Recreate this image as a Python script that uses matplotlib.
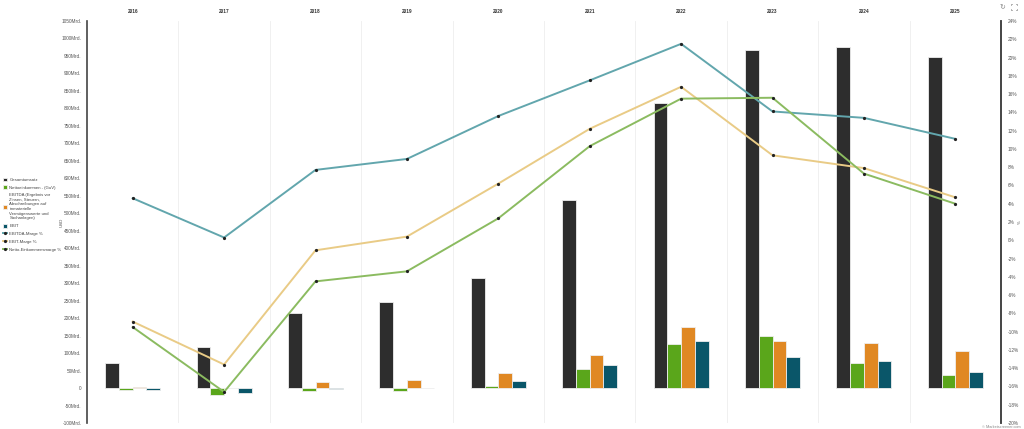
import matplotlib.pyplot as plt
import numpy as np
from matplotlib.lines import Line2D

plt.rcParams['font.family'] = ['Liberation Sans', 'DejaVu Sans']

# Werte in Mrd. USD bzw. %
years = ['2016', '2017', '2018', '2019', '2020', '2021', '2022', '2023', '2024', '2025']
umsatz = [71, 117, 214, 246, 316, 538, 815, 967, 977, 948]
netto = [-7, -19, -9, -9, 7, 55, 127, 150, 71, 38]
ebitda = [3, 1, 17, 23, 43, 94, 174, 136, 129, 105]
ebit = [-6, -15, -2, 1, 19, 65, 136, 89, 76, 45]

ebitda_marge = [4.6, 0.3, 7.7, 8.9, 13.6, 17.5, 21.5, 14.1, 13.4, 11.1]
ebit_marge = [-8.9, -13.6, -1.1, 0.4, 6.2, 12.2, 16.8, 9.3, 7.9, 4.7]
netto_marge = [-9.5, -16.6, -4.5, -3.4, 2.4, 10.3, 15.5, 15.6, 7.3, 4.0]

left_ticks = list(range(-100, 1051, 50))
right_ticks = list(range(-20, 25, 2))

bar_names = ['Gesamtumsatz', 'Nettoeinkommen - (GuV)',
             'EBITDA (Ergebnis vor\nZinsen, Steuern,\nAbschreibungen auf\nimmaterielle\nVermögenswerte und\nSachanlagen)',
             'EBIT']
bar_colors = ['#2d2d2d', '#5aa61b', '#e08823', '#0a5669']
line_names = ['EBITDA-Marge %', 'EBIT-Marge %', 'Netto-Einkommensmarge %']
line_colors = ['#62a6ad', '#e9cb86', '#8bbb60']

fig = plt.figure(figsize=(10.24, 4.29), dpi=100)
ax = fig.add_axes([87 / 1024, 1 - 423 / 429, (1001 - 87) / 1024, 402 / 429])

x = np.arange(len(years))
w = 0.15
handles = []
for i, (vals, col, name) in enumerate(zip([umsatz, netto, ebitda, ebit], bar_colors, bar_names)):
    h = ax.bar(x + (i - 1.5) * w, vals, w, color=col, edgecolor='#eeeeee', linewidth=0.6,
               label=name, zorder=2)
    handles.append(h)

ax.set_xlim(-0.5, len(years) - 0.5)
ax.set_ylim(-100, 1050)
ax.set_yticks(left_ticks)
ax.set_yticklabels(['0' if v == 0 else f'{v}Mrd.' for v in left_ticks])
ax.tick_params(axis='y', length=0, labelsize=3.4, colors='#555555', pad=4)
ax.set_xticks(x)
ax.set_xticklabels(years, fontweight='bold')
ax.xaxis.tick_top()
ax.tick_params(axis='x', length=0, labelsize=3.4, colors='#333333', pad=5)
ax.set_xticks(np.arange(0.5, len(years) - 1, 1), minor=True)
ax.tick_params(axis='x', which='minor', length=0)
ax.grid(axis='x', which='minor', color='#eeeeee', linewidth=0.6, zorder=0)
for s in ['top', 'bottom']:
    ax.spines[s].set_visible(False)
ax.spines['left'].set_color('#444444')
ax.spines['left'].set_linewidth(1.2)
ax.spines['right'].set_color('#444444')
ax.spines['right'].set_linewidth(1.2)
ax.set_ylabel('USD', fontsize=3.2, color='#555555')
ax.yaxis.set_label_coords(-0.0252, 0.5)

ax2 = ax.twinx()
for vals, col, name in zip([ebitda_marge, ebit_marge, netto_marge], line_colors, line_names):
    h, = ax2.plot(x, vals, color=col, linewidth=1.4, marker='o', markersize=1.3,
                  markerfacecolor='#222222', markeredgecolor='#222222', label=name, zorder=3)
    handles.append(h)
ax2.set_ylim(-20, 24)
ax2.set_yticks(right_ticks)
ax2.set_yticklabels([f'{v}%' for v in right_ticks])
ax2.tick_params(axis='y', length=0, labelsize=3.4, colors='#555555', pad=5)
for s in ['top', 'bottom', 'left']:
    ax2.spines[s].set_visible(False)
ax2.spines['right'].set_color('#444444')
ax2.spines['right'].set_linewidth(1.2)
ax2.set_ylabel('%', fontsize=3.2, color='#555555')
ax2.yaxis.set_label_coords(1.0186, 0.5)

fig.legend(handles=handles, loc='upper left', bbox_to_anchor=(0.0, 1 - 175 / 429),
           frameon=False, fontsize=3.1, handlelength=1.0, handleheight=1.0,
           handletextpad=0.6, labelspacing=0.8, borderaxespad=0.2, labelcolor='#444444')

fig.text(0.997, 0.0, '© Marketscreener.com', fontsize=2.8, color='#888888',
         ha='right', va='bottom')
fig.text(1002 / 1024, 1 - 7 / 429, '↻', fontsize=5, color='#888888', ha='center', va='center',
         family=['DejaVu Sans'])

# Vollbild-Symbol als Eckwinkel
cx, cy, r, k = 1014 / 1024, 1 - 7 / 429, 3 / 1024, 1.2 / 1024
ry, ky = 3 / 429, 1.2 / 429
for sx in (-1, 1):
    for sy in (-1, 1):
        xs = [cx + sx * (r - k), cx + sx * r, cx + sx * r]
        ys = [cy + sy * ry, cy + sy * ry, cy + sy * (ry - ky)]
        fig.add_artist(Line2D(xs, ys, color='#888888', linewidth=0.5))

fig.savefig('out.png', dpi=100)
